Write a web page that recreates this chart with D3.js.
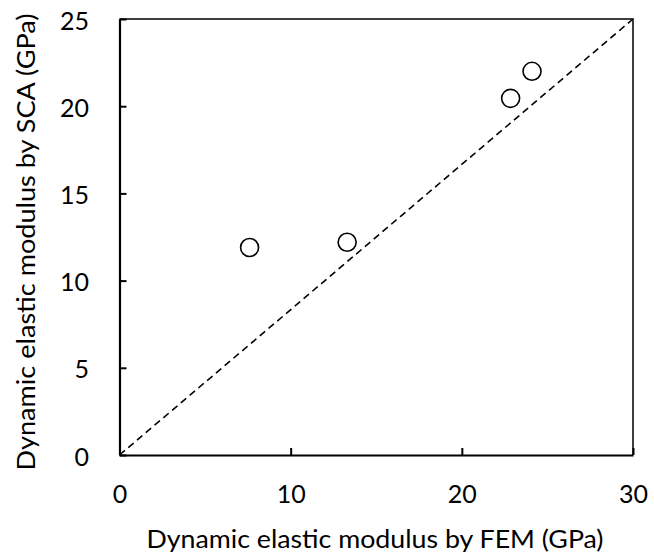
<!DOCTYPE html>
<html>
<head>
<meta charset="utf-8">
<script src="https://cdn.jsdelivr.net/npm/d3@7"></script>
<style>
  html, body { margin: 0; padding: 0; background: #fff; }
  svg text { font-family: Lato, "Open Sans", sans-serif; fill: #000; }
</style>
</head>
<body>
<svg id="chart" width="654" height="559"></svg>
<script>
// Dynamic elastic modulus: FEM estimate vs SCA estimate (GPa)
const femValues = [7.6, 13.3, 22.85, 24.1];
const scaValues = [11.9, 12.2, 20.45, 22.0];
const xTicks = [0, 10, 20, 30];
const yTicks = [0, 5, 10, 15, 20, 25];
const xTitle = "Dynamic elastic modulus by FEM (GPa)";
const yTitle = "Dynamic elastic modulus by SCA (GPa)";

const svg = d3.select("#chart");
const plot = { left: 119.5, right: 633, top: 19, bottom: 455 };
const fontSize = "25px";

const x = d3.scaleLinear().domain([0, 30]).range([plot.left, plot.right]);
const y = d3.scaleLinear().domain([0, 25]).range([plot.bottom, plot.top]);

// plot frame (top and right edges)
svg.append("path")
  .attr("d", `M${plot.left},${plot.top}H${plot.right}V${plot.bottom}`)
  .attr("fill", "none").attr("stroke", "#000").attr("stroke-width", 1.5);

// dashed diagonal from corner to corner of the plot area
svg.append("line")
  .attr("x1", x(0)).attr("y1", y(0))
  .attr("x2", x(x.domain()[1])).attr("y2", y(y.domain()[1]))
  .attr("stroke", "#000").attr("stroke-width", 1.6)
  .attr("stroke-dasharray", "7,4.5");

// axes with inward ticks
const xAxis = d3.axisBottom(x).tickValues(xTicks).tickSize(-7).tickSizeOuter(0);
const yAxis = d3.axisLeft(y).tickValues(yTicks).tickSize(-7).tickSizeOuter(0);

const gx = svg.append("g").attr("transform", `translate(0,${plot.bottom})`).call(xAxis);
const gy = svg.append("g").attr("transform", `translate(${plot.left},0)`).call(yAxis);

[gx, gy].forEach(g => {
  g.select(".domain").attr("stroke", "#000").attr("stroke-width", 2.2);
  g.selectAll(".tick line").attr("stroke", "#000").attr("stroke-width", 2);
  g.selectAll(".tick text").style("font-size", fontSize).attr("fill", "#000");
});
gx.selectAll(".tick text").attr("y", 38).attr("dy", null)
  .attr("dominant-baseline", "central");
gy.selectAll(".tick text").attr("x", -30.5).attr("dy", null)
  .attr("dominant-baseline", "central");

// data points
svg.append("g").selectAll("circle")
  .data(femValues.map((v, i) => [v, scaValues[i]]))
  .join("circle")
  .attr("cx", d => x(d[0]))
  .attr("cy", d => y(d[1]))
  .attr("r", 9)
  .attr("fill", "#fff")
  .attr("stroke", "#000")
  .attr("stroke-width", 1.6);

// axis titles
svg.append("text")
  .attr("x", 375)
  .attr("y", 538)
  .attr("text-anchor", "middle")
  .attr("dominant-baseline", "central")
  .attr("textLength", 457)
  .attr("lengthAdjust", "spacingAndGlyphs")
  .style("font-size", fontSize)
  .text(xTitle);

svg.append("text")
  .attr("transform", `translate(25,242) rotate(-90)`)
  .attr("text-anchor", "middle")
  .attr("dominant-baseline", "central")
  .attr("textLength", 457)
  .attr("lengthAdjust", "spacingAndGlyphs")
  .style("font-size", fontSize)
  .text(yTitle);
</script>
</body>
</html>
